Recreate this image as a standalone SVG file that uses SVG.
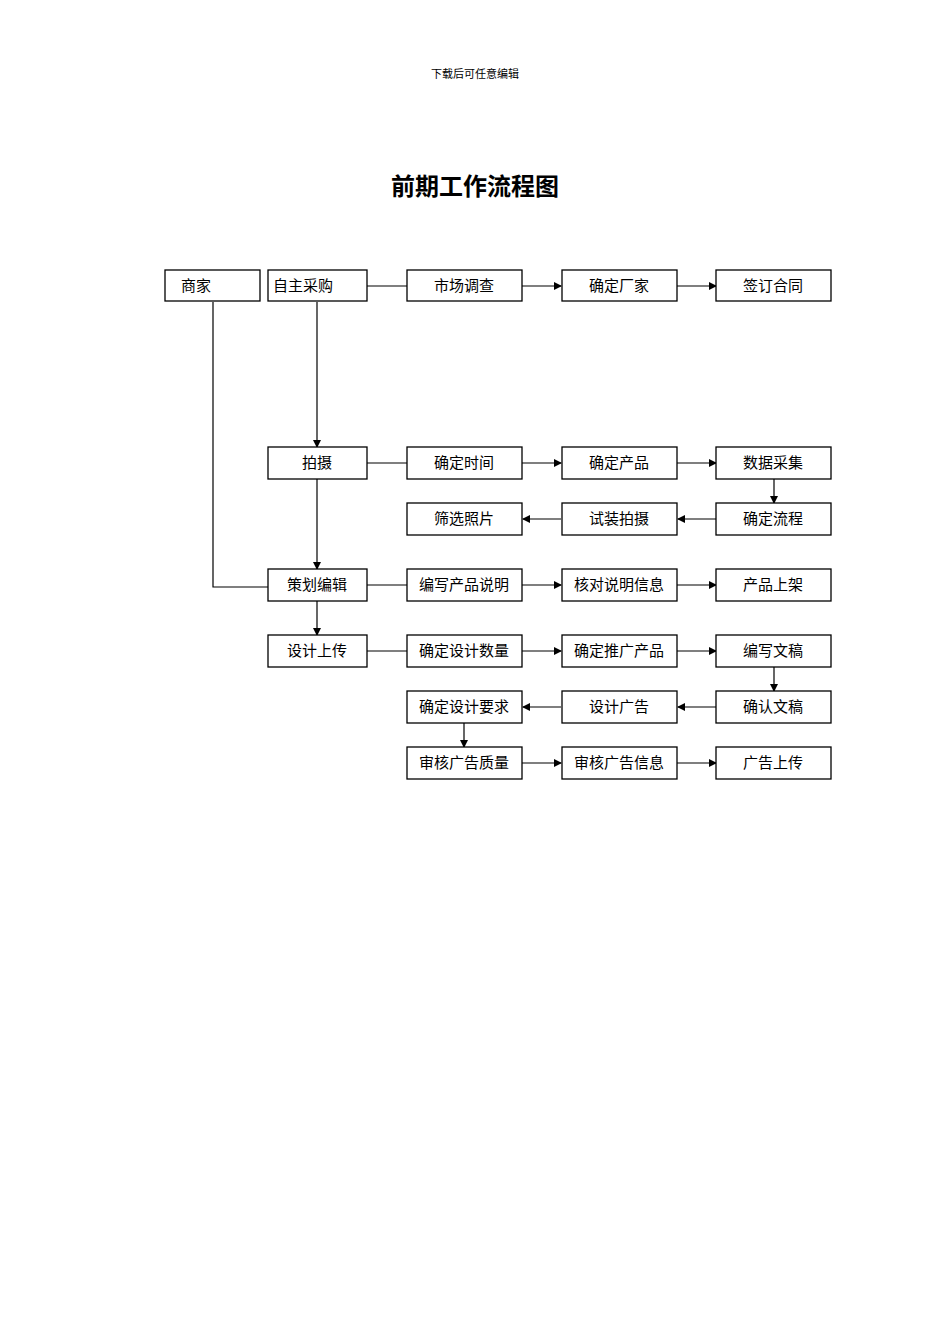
<svg xmlns="http://www.w3.org/2000/svg" width="950" height="1344" viewBox="0 0 950 1344">
<style>
rect{fill:#fff;stroke:#000;stroke-width:1.3}
text{font-family:"Noto Sans CJK SC",sans-serif;font-size:15px;text-anchor:middle;fill:#000}
.c{stroke:#000;stroke-width:1.2;fill:none}
</style>
<defs><marker id="a" markerWidth="8" markerHeight="8" refX="7" refY="4" orient="auto" markerUnits="userSpaceOnUse"><path d="M0,0L8,4L0,8z" fill="#000"/></marker></defs>
<rect width="950" height="1344" style="stroke:none"/>
<text x="475" y="78" style="font-size:11px;font-family:'Noto Sans CJK SC',serif">下载后可任意编辑</text>
<text x="475" y="195" style="font-size:24px;font-weight:bold">前期工作流程图</text>
<g id="connectors">
<path class="c" d="M367,286H407M522,286H561" marker-end="url(#a)"/>
<path class="c" d="M677,286H716" marker-end="url(#a)"/>
<path class="c" d="M317,302V447" marker-end="url(#a)"/>
<path class="c" d="M367,463H407M522,463H561" marker-end="url(#a)"/>
<path class="c" d="M677,463H716" marker-end="url(#a)"/>
<path class="c" d="M774,479V503" marker-end="url(#a)"/>
<path class="c" d="M716,519H678" marker-end="url(#a)"/>
<path class="c" d="M561,519H523" marker-end="url(#a)"/>
<path class="c" d="M317,479V569" marker-end="url(#a)"/>
<path class="c" d="M213,302V587H268"/>
<path class="c" d="M367,585H407M522,585H561" marker-end="url(#a)"/>
<path class="c" d="M677,585H716" marker-end="url(#a)"/>
<path class="c" d="M317,601V635" marker-end="url(#a)"/>
<path class="c" d="M367,651H407M522,651H561" marker-end="url(#a)"/>
<path class="c" d="M677,651H716" marker-end="url(#a)"/>
<path class="c" d="M774,667V691" marker-end="url(#a)"/>
<path class="c" d="M716,707H678" marker-end="url(#a)"/>
<path class="c" d="M561,707H523" marker-end="url(#a)"/>
<path class="c" d="M464,723V747" marker-end="url(#a)"/>
<path class="c" d="M522,763H561" marker-end="url(#a)"/>
<path class="c" d="M677,763H716" marker-end="url(#a)"/>
</g>
<g id="n1"><rect x="165" y="270" width="95" height="31"/><text x="196" y="291">商家</text></g>
<g id="n2"><rect x="268" y="270" width="99" height="31"/><text x="303" y="291">自主采购</text></g>
<g id="n3"><rect x="407" y="270" width="115" height="31"/><text x="464" y="291">市场调查</text></g>
<g id="n4"><rect x="562" y="270" width="115" height="31"/><text x="619" y="291">确定厂家</text></g>
<g id="n5"><rect x="716" y="270" width="115" height="31"/><text x="773" y="291">签订合同</text></g>
<g id="n6"><rect x="268" y="447" width="99" height="32"/><text x="317" y="468">拍摄</text></g>
<g id="n7"><rect x="407" y="447" width="115" height="32"/><text x="464" y="468">确定时间</text></g>
<g id="n8"><rect x="562" y="447" width="115" height="32"/><text x="619" y="468">确定产品</text></g>
<g id="n9"><rect x="716" y="447" width="115" height="32"/><text x="773" y="468">数据采集</text></g>
<g id="n10"><rect x="407" y="503" width="115" height="32"/><text x="464" y="524">筛选照片</text></g>
<g id="n11"><rect x="562" y="503" width="115" height="32"/><text x="619" y="524">试装拍摄</text></g>
<g id="n12"><rect x="716" y="503" width="115" height="32"/><text x="773" y="524">确定流程</text></g>
<g id="n13"><rect x="268" y="569" width="99" height="32"/><text x="317" y="590">策划编辑</text></g>
<g id="n14"><rect x="407" y="569" width="115" height="32"/><text x="464" y="590">编写产品说明</text></g>
<g id="n15"><rect x="562" y="569" width="115" height="32"/><text x="619" y="590">核对说明信息</text></g>
<g id="n16"><rect x="716" y="569" width="115" height="32"/><text x="773" y="590">产品上架</text></g>
<g id="n17"><rect x="268" y="635" width="99" height="32"/><text x="317" y="656">设计上传</text></g>
<g id="n18"><rect x="407" y="635" width="115" height="32"/><text x="464" y="656">确定设计数量</text></g>
<g id="n19"><rect x="562" y="635" width="115" height="32"/><text x="619" y="656">确定推广产品</text></g>
<g id="n20"><rect x="716" y="635" width="115" height="32"/><text x="773" y="656">编写文稿</text></g>
<g id="n21"><rect x="407" y="691" width="115" height="32"/><text x="464" y="712">确定设计要求</text></g>
<g id="n22"><rect x="562" y="691" width="115" height="32"/><text x="619" y="712">设计广告</text></g>
<g id="n23"><rect x="716" y="691" width="115" height="32"/><text x="773" y="712">确认文稿</text></g>
<g id="n24"><rect x="407" y="747" width="115" height="32"/><text x="464" y="768">审核广告质量</text></g>
<g id="n25"><rect x="562" y="747" width="115" height="32"/><text x="619" y="768">审核广告信息</text></g>
<g id="n26"><rect x="716" y="747" width="115" height="32"/><text x="773" y="768">广告上传</text></g>
</svg>
